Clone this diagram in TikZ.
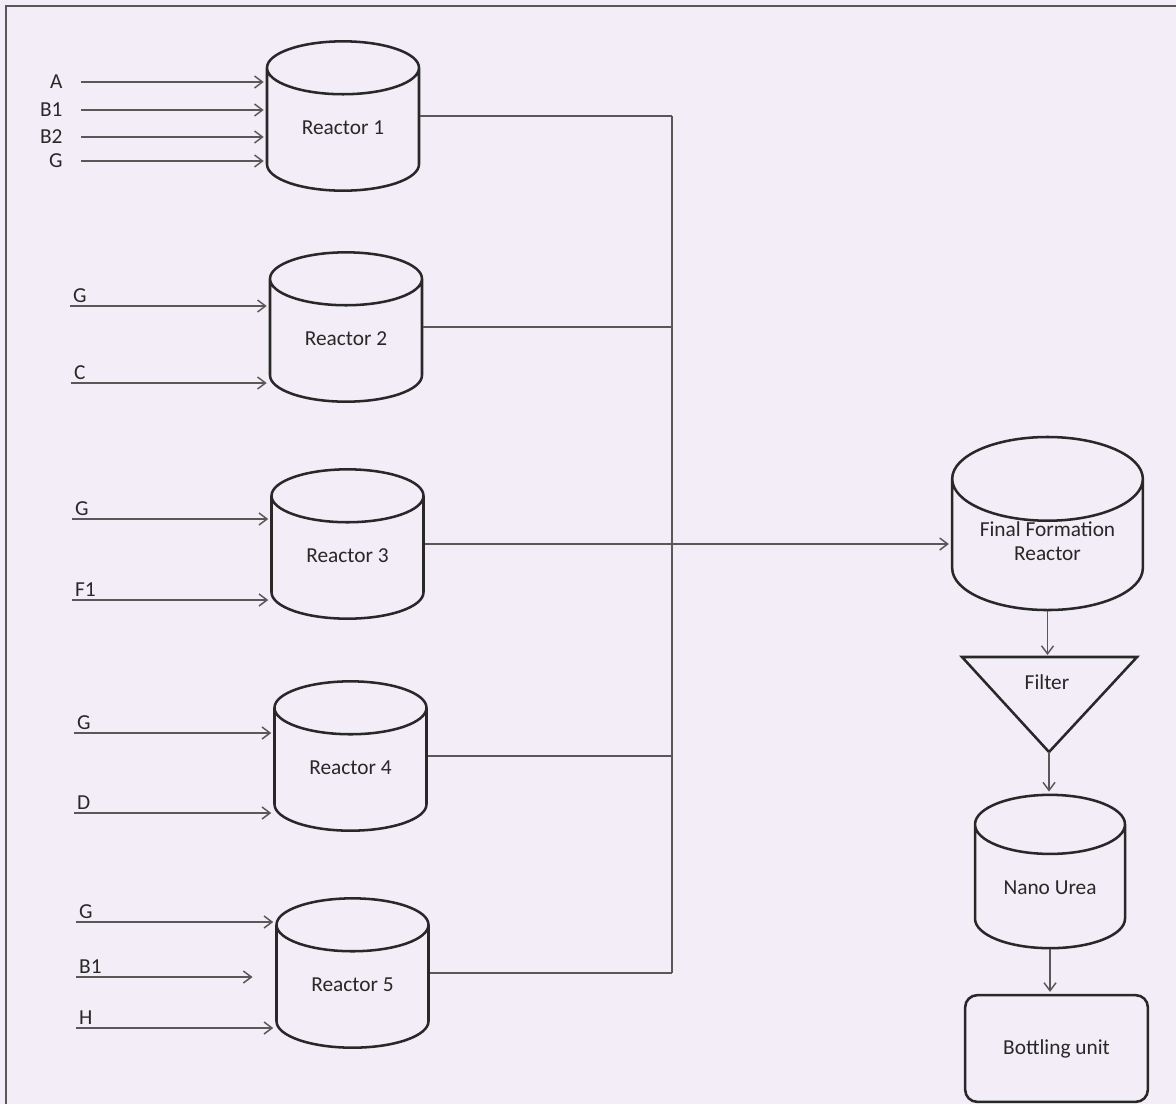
\documentclass[tikz,border=0pt]{standalone}
\usepackage{fontspec}
\setmainfont{Carlito}
\usetikzlibrary{shapes.geometric,arrows.meta}

\definecolor{paper}{RGB}{242,237,246}
\definecolor{ink}{RGB}{40,40,40}
\definecolor{pipe}{RGB}{88,88,88}

\tikzset{every picture/.style={line width=0.75pt}}
\tikzset{
  can/.style={cylinder, shape border rotate=90, aspect=0.58, draw=ink, line width=1.9pt,
    minimum width=114pt, minimum height=112pt, text=ink, align=center, anchor=shape center,
    text depth=10pt},
  feed/.style={text=ink, inner sep=2pt},
  feedline/.style={draw=pipe, line width=1.1pt, -{Straight Barb[length=6pt,width=9pt]}, shorten >=1.5pt},
  pipeline/.style={draw=pipe, line width=1.1pt},
}

\begin{document}
\begin{tikzpicture}[x=0.75pt,y=0.75pt,yscale=-1,xscale=1,font=\fontsize{16}{18}\selectfont]
\useasboundingbox (0,0) rectangle (1176,1104);

%Paper and frame
\fill[paper] (0,0) rectangle (1176,1104);
\draw[pipe, line width=1.5pt] (6,1104) -- (6,6) -- (1176,6);

%Shape: Can [reactors]
\node[can] (r1) at (343,116) {Reactor 1};
\node[can] (r2) at (346,327) {Reactor 2};
\node[can] (r3) at (347.5,544) {Reactor 3};
\node[can] (r4) at (350.5,756) {Reactor 4};
\node[can] (r5) at (352.5,973) {Reactor 5};

% Text Node [feeds of reactor 1]
\node[feed, anchor=east] (a1) at (65.7,82) {A};
\node[feed, anchor=east] (b11) at (65.7,110) {B1};
\node[feed, anchor=east] (b21) at (65.7,137) {B2};
\node[feed, anchor=east] (g1) at (65.7,161) {G};
%Straight Lines
\foreach \f in {a1,b11,b21,g1}
  \draw[feedline] ([xshift=11.5pt]\f.east) -- (\f.east -| r1.west);

% Text Node [feeds of reactors 2 to 5]
\node[feed, anchor=south west] (g2) at (70,306) {G};
\node[feed, anchor=south west] (c2) at (71,383) {C};
\node[feed, anchor=south west] (g3) at (72,519) {G};
\node[feed, anchor=south west] (f13) at (72,600) {F1};
\node[feed, anchor=south west] (g4) at (74,733) {G};
\node[feed, anchor=south west] (d4) at (74,813) {D};
\node[feed, anchor=south west] (g5) at (76,922) {G};
\node[feed, anchor=south west] (b15) at (76,977) {B1};
\node[feed, anchor=south west] (h5) at (76,1028) {H};
%Straight Lines
\foreach \f/\r in {g2/r2,c2/r2,g3/r3,f13/r3,g4/r4,d4/r4,g5/r5,h5/r5}
  \draw[feedline] (\f.south west) -- (\f.south west -| \r.west);
\draw[feedline, shorten >=17pt] (b15.south west) -- (b15.south west -| r5.west);

%Shape: Can [final stage]
\node[can, minimum width=143pt, minimum height=125pt, inner ysep=0pt, text depth=15pt] (ffr) at (1047.5,523.5) {Final Formation\\Reactor};
\node[can, minimum width=112.5pt, minimum height=115pt, text depth=6pt] (nano) at (1050,871.5) {Nano Urea};
%Shape: Rectangle
\node[draw=ink, line width=1.9pt, rounded corners=9pt, minimum width=137pt, minimum height=80pt, text=ink] (bottle) at (1056.5,1048.5) {Bottling unit};
%Shape: Triangle
\coordinate (ftl) at (962,657);
\coordinate (ftr) at (1137,657);
\coordinate (ftip) at (1049,752);
\draw[ink, line width=1.9pt] (ftl) -- (ftr) -- (ftip) -- cycle;
\node[text=ink] (filter) at (1047,682) {Filter};

%Straight Lines [collecting pipe]
\coordinate (bus) at (672,0);
\foreach \r in {r1,r2,r3,r4,r5}
  \draw[pipeline] (\r.shape center -| \r.east) -- (\r.shape center -| bus);
\draw[pipeline] (r1.shape center -| bus) -- (r5.shape center -| bus);
\draw[feedline] (r3.shape center -| bus) -- (r3.shape center -| ffr.west);

%Straight Lines [final stage]
\draw[feedline] (ffr.south) -- (ffr.south |- ftl);
\draw[feedline] (ftip) -- (ftip |- nano.north);
\draw[feedline] (nano.south) -- (nano.south |- bottle.north);

\end{tikzpicture}
\end{document}
